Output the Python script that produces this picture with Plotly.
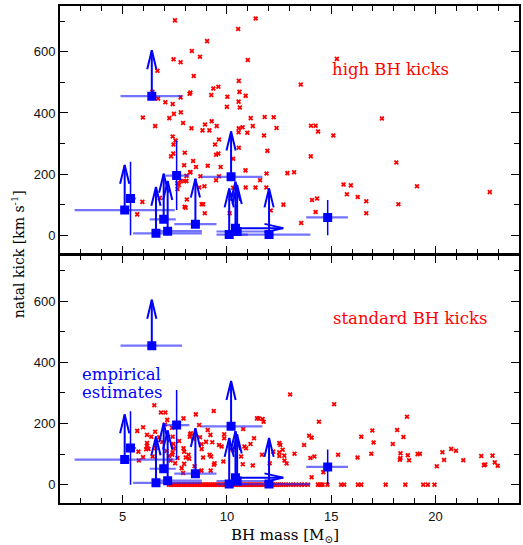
import plotly.graph_objects as go

# ---------------- data ----------------
# high BH kicks (top panel) simulated systems
top_x = [7.51, 10.54, 9.05, 8.32, 8.71, 7.44, 7.78, 6.67, 8.41, 10.57, 9.35, 9.59, 10.60, 9.25,
         8.21, 8.25, 10.90, 10.02, 6.43, 6.70, 7.78, 7.05, 7.40, 10.56, 10.00, 10.62, 7.79, 7.46,
         5.97, 7.24, 11.14, 9.27, 7.90, 8.95, 6.56, 11.24, 9.51, 8.30, 10.57, 10.75, 8.83, 9.16,
         10.98, 10.56, 7.40, 7.54, 9.62, 9.43, 9.59, 9.48, 7.44, 10.57, 7.98, 7.43, 7.32, 8.38,
         10.30, 7.95, 9.08, 9.70, 10.89, 8.52, 8.25, 7.57, 8.06, 8.24, 8.73, 9.62, 7.78, 7.95,
         8.06, 7.62, 9.48, 7.70, 8.92, 8.67, 7.63, 10.90, 10.30, 6.78, 5.95, 8.08, 8.79, 8.86,
         7.97, 8.02, 5.70, 8.94, 10.13, 10.29, 11.37,
         11.38, 11.00, 15.27, 13.54, 11.81, 12.24, 17.43, 12.38, 14.03, 14.25, 14.37, 11.78,
         15.10, 11.94, 14.02, 18.12, 11.90, 12.90, 13.22, 11.59, 11.89, 15.59, 15.94, 15.75,
         19.11, 16.27, 22.60, 16.68, 12.71, 14.08, 14.32, 18.22, 14.25, 16.68, 12.10, 13.56]
top_y = [703, 675, 635, 603, 584, 576, 566, 538, 521, 505, 480, 486, 469, 459,
         463, 467, 456, 453, 469, 447, 451, 435, 429, 437, 420, 418, 402, 397,
         385, 383, 383, 373, 367, 362, 357, 357, 357, 350, 350, 353, 343, 343,
         335, 337, 323, 310, 313, 297, 267, 263, 297, 286, 270, 267, 258, 243,
         250, 229, 227, 223, 212, 223, 207, 198, 194, 205, 193, 193, 177, 177,
         177, 170, 180, 164, 160, 156, 151, 156, 155, 122, 109, 117, 101, 101,
         93, 90, 68, 72, 72, 131, 156,
         709, 573, 577, 493, 387, 386, 382, 351, 358, 358, 339, 326,
         326, 276, 258, 238, 202, 203, 206, 180, 156, 166, 163, 134,
         160, 125, 141, 111, 100, 115, 120, 101, 76, 72, 81, 40]

# standard BH kicks (bottom panel) simulated systems
std_x = [6.52, 6.84, 7.05, 7.14, 7.03, 7.92, 8.51, 9.37, 5.70, 5.98, 6.38, 6.56, 6.17, 6.17,
         6.17, 6.13, 6.24, 5.76, 5.98, 5.78, 6.44, 6.76, 7.37, 7.40, 7.43, 7.40, 7.46, 7.38,
         7.22, 7.30, 7.52, 7.63, 7.71, 7.92, 7.95, 8.03, 7.95, 7.83, 7.90, 8.16, 8.19, 8.24,
         8.27, 8.22, 8.38, 8.67, 8.71, 8.78, 8.79, 8.86, 8.78, 9.08, 9.21, 9.30, 9.17, 9.24,
         9.41, 9.38, 9.22, 9.62, 9.75, 9.87, 9.87, 9.83, 10.27, 10.68, 10.84, 10.92, 10.76,
         11.24, 11.30, 11.13, 11.44, 10.78, 6.90, 7.10, 6.60, 8.45, 9.00,
         11.52, 11.71, 11.76, 11.68, 12.05, 12.22, 12.51, 12.56, 12.51, 12.51, 12.67, 12.75,
         12.76, 12.86, 13.03, 13.24, 13.70, 13.94, 14.06, 14.00, 14.19, 14.06, 14.41, 14.62,
         15.14, 15.33, 16.26, 16.44, 16.97, 17.03, 16.92, 17.95, 18.16, 18.63, 18.46, 18.32,
         18.32, 18.29, 18.67, 18.73, 19.14, 19.25, 20.06, 20.33, 20.41, 20.75, 20.98, 21.33,
         22.19, 22.32, 22.38, 22.73, 22.84, 22.98]
std_y = [260, 236, 236, 212, 197, 217, 230, 241, 176, 188, 157, 173, 163, 136,
         127, 116, 117, 108, 90, 79, 92, 155, 186, 157, 133, 106, 119, 98,
         94, 79, 70, 87, 143, 119, 108, 89, 68, 54, 38, 98, 85, 165,
         168, 157, 150, 195, 155, 132, 117, 89, 46, 179, 163, 139, 98, 92,
         70, 65, 46, 130, 125, 165, 152, 76, 114, 92, 125, 119, 67,
         63, 152, 133, 217, 182, 140, 110, 120, 60, 140,
         217, 215, 206, 98, 70, 108, 136, 130, 106, 94, 114, 95,
         79, 69, 295, 101, 130, 160, 154, 87, 92, 24, 206, 41,
         263, 98, 89, 157, 177, 138, 101, 133, 179, 222, 156, 103,
         87, 82, 96, 80, 100, 101, 60, 106, 81, 117, 111, 80,
         94, 64, 66, 95, 73, 62]
# systems with (near) zero natal kick in the standard model
std0_x = [7.22, 7.31, 7.40, 7.47, 7.56, 7.63, 7.71, 7.79, 7.86, 7.94, 8.02, 8.09, 8.17, 8.26,
          8.33, 8.41, 8.48, 8.57, 8.64, 8.72, 8.80, 8.87, 8.96, 9.03, 9.11, 9.19, 9.27, 9.34,
          9.42, 9.51, 9.58, 9.66, 9.73, 9.82, 9.89, 9.97, 10.05, 10.12, 10.21, 10.28, 10.36,
          10.44, 10.52, 10.59, 10.67, 10.75, 10.83, 10.91, 10.98, 11.07, 11.15, 11.23, 11.31,
          11.40, 11.49, 11.58, 11.67, 11.76, 11.86, 11.95, 12.04, 12.14, 12.23, 12.33, 12.42,
          12.52, 12.61, 12.72, 12.83, 12.94, 13.06, 13.18, 13.31, 13.45, 13.58, 13.72, 13.88,
          14.36, 14.44, 14.51, 14.59, 14.82, 15.47, 15.62, 16.28, 16.44, 17.61, 18.55, 19.41,
          19.63, 19.95]
std0_y = [0] * len(std0_x)

# empirical estimates (same in both panels)
emp_x = [5.10, 5.38, 6.40, 6.60, 6.97, 7.16, 7.59, 8.49, 10.20, 10.11, 10.41, 10.49, 12.02, 14.83]
emp_y = [82, 120, 455, 6, 52, 13, 195, 36, 191, 2, 23, 12, 2, 58]
emp_xlo = [2.70, 5.15, 4.90, 5.50, 6.30, 6.80, 7.05, 7.48, 8.75, 9.50, None, 9.50, 10.00, 13.80]
emp_xhi = [7.50, 5.65, 7.85, 8.80, 7.55, 8.80, 8.20, 9.50, 11.70, 11.00, None, 12.00, 14.00, 15.80]
emp_ylo = [None, 0, None, None, None, None, 82, None, None, None, None, None, None, 0]
emp_yhi = [None, 240, None, None, None, None, 310, None, None, None, None, None, None, 115]
emp_uplim = [230, None, 605, 158, 201, 177, None, 185, 339, 153, 175, 164, 153, None]
emp_xlim = [None, None, None, None, None, None, None, None, None, None, 12.7, None, None, None]

annot_top = "high BH kicks"
annot_bot = "standard BH kicks"
annot_emp = ["empirical", "estimates"]

# ---------------- figure ----------------
BLUE = "#0000ff"
RED = "#ff0000"
HEAD_W = 0.22   # half width of vertical arrow heads (x units)
HEAD_H = 62     # height of vertical arrow heads (y units)
HHEAD_L = 0.9   # length of horizontal arrow head (x units)
HHEAD_H = 14    # half height of horizontal arrow head (y units)

fig = go.Figure()


def add_panel(xs, ys, yaxis):
    xa = "x" if yaxis == "y" else "x2"
    fig.add_trace(go.Scatter(x=xs, y=ys, mode="markers", xaxis=xa, yaxis=yaxis,
                             marker=dict(symbol="x", size=4.5, color=RED,
                                         line=dict(width=0)),
                             showlegend=False, hoverinfo="skip"))


def add_empirical(yaxis):
    xa = "x" if yaxis == "y" else "x2"
    # horizontal error bars
    hx, hy = [], []
    for x, y, lo, hi in zip(emp_x, emp_y, emp_xlo, emp_xhi):
        if lo is not None:
            hx += [lo, hi, None]
            hy += [y, y, None]
    fig.add_trace(go.Scatter(x=hx, y=hy, mode="lines", xaxis=xa, yaxis=yaxis,
                             line=dict(color="rgba(40,40,255,0.65)", width=2.2),
                             showlegend=False, hoverinfo="skip"))
    # vertical error bars
    vx, vy = [], []
    for x, lo, hi in zip(emp_x, emp_ylo, emp_yhi):
        if lo is not None:
            vx += [x, x, None]
            vy += [lo, hi, None]
    fig.add_trace(go.Scatter(x=vx, y=vy, mode="lines", xaxis=xa, yaxis=yaxis,
                             line=dict(color=BLUE, width=1.5),
                             showlegend=False, hoverinfo="skip"))
    # arrows (lower limits)
    ax, ay = [], []
    for x, y, tip in zip(emp_x, emp_y, emp_uplim):
        if tip is not None:
            ax += [x, x, None, x - HEAD_W, x, x + HEAD_W, None]
            ay += [y, tip, None, tip - HEAD_H, tip, tip - HEAD_H, None]
    for x, y, tip in zip(emp_x, emp_y, emp_xlim):
        if tip is not None:
            ax += [x, tip, None, tip - HHEAD_L, tip, tip - HHEAD_L, None]
            ay += [y, y, None, y + HHEAD_H, y, y - HHEAD_H, None]
    fig.add_trace(go.Scatter(x=ax, y=ay, mode="lines", xaxis=xa, yaxis=yaxis,
                             line=dict(color=BLUE, width=2),
                             showlegend=False, hoverinfo="skip"))
    fig.add_trace(go.Scatter(x=emp_x, y=emp_y, mode="markers", xaxis=xa, yaxis=yaxis,
                             marker=dict(symbol="square", size=9, color=BLUE,
                                         line=dict(width=0)),
                             showlegend=False, hoverinfo="skip"))


add_panel(top_x, top_y, "y2")
add_empirical("y2")
add_panel(std_x + std0_x, std_y + std0_y, "y")
add_empirical("y")

tickfont = dict(family="Liberation Sans, Arial, sans-serif", size=13, color="#111")
xcommon = dict(range=[2, 24], showline=True, linewidth=2, linecolor="black", mirror="ticks",
               ticks="inside", ticklen=8, tickwidth=1.2, tickcolor="black",
               dtick=5, tick0=0, showgrid=False, zeroline=False, tickfont=tickfont,
               minor=dict(dtick=1, ticks="inside", ticklen=5, tickwidth=1, tickcolor="black",
                          showgrid=False))
ycommon = dict(range=[-60, 750], showline=True, linewidth=2, linecolor="black", mirror="ticks",
               ticks="inside", ticklen=8, tickwidth=1.2, tickcolor="black",
               dtick=200, tick0=0, showgrid=False, zeroline=False, tickfont=tickfont,
               minor=dict(dtick=100, ticks="inside", ticklen=5, tickwidth=1, tickcolor="black",
                          showgrid=False))

fig.update_layout(
    width=523, height=545,
    margin=dict(l=60, r=2, t=6, b=42),
    paper_bgcolor="white", plot_bgcolor="white",
    xaxis=dict(**xcommon, anchor="y", domain=[0, 1]),
    yaxis=dict(**ycommon, anchor="x", domain=[0, 0.498]),
    xaxis2=dict(**xcommon, anchor="y2", matches="x", showticklabels=False),
    yaxis2=dict(**ycommon, anchor="x2", domain=[0.502, 1]),
    showlegend=False,
)

serif = "DejaVu Serif, Liberation Serif, serif"
fig.add_annotation(text="natal kick [km s<sup>-1</sup>]", xref="paper", yref="paper",
                   x=-0.092, y=0.5, xanchor="center", yanchor="middle", textangle=-90,
                   showarrow=False, font=dict(family=serif, size=14, color="black"))
fig.add_annotation(text="BH mass [M<sub>⊙</sub>]", xref="paper", yref="paper",
                   x=0.49, y=-0.066, xanchor="center", yanchor="middle", showarrow=False,
                   font=dict(family=serif, size=15, color="black"))
fig.add_annotation(text=annot_top, xref="x2", yref="y2", x=17.84, y=543,
                   xanchor="center", yanchor="middle",
                   showarrow=False, font=dict(family=serif, size=16.5, color=RED))
fig.add_annotation(text=annot_bot, xref="x", yref="y", x=18.77, y=543,
                   xanchor="center", yanchor="middle",
                   showarrow=False, font=dict(family=serif, size=16.5, color=RED))
for txt, yy in zip(annot_emp, [361, 302]):
    fig.add_annotation(text=txt, xref="x", yref="y", x=2.95, y=yy, xanchor="left",
                       yanchor="middle", showarrow=False,
                       font=dict(family=serif, size=16.5, color=BLUE))

fig.write_html("out.html", config={"displayModeBar": False},
               post_script="document.body.style.margin='0';document.body.style.overflow='hidden';")
